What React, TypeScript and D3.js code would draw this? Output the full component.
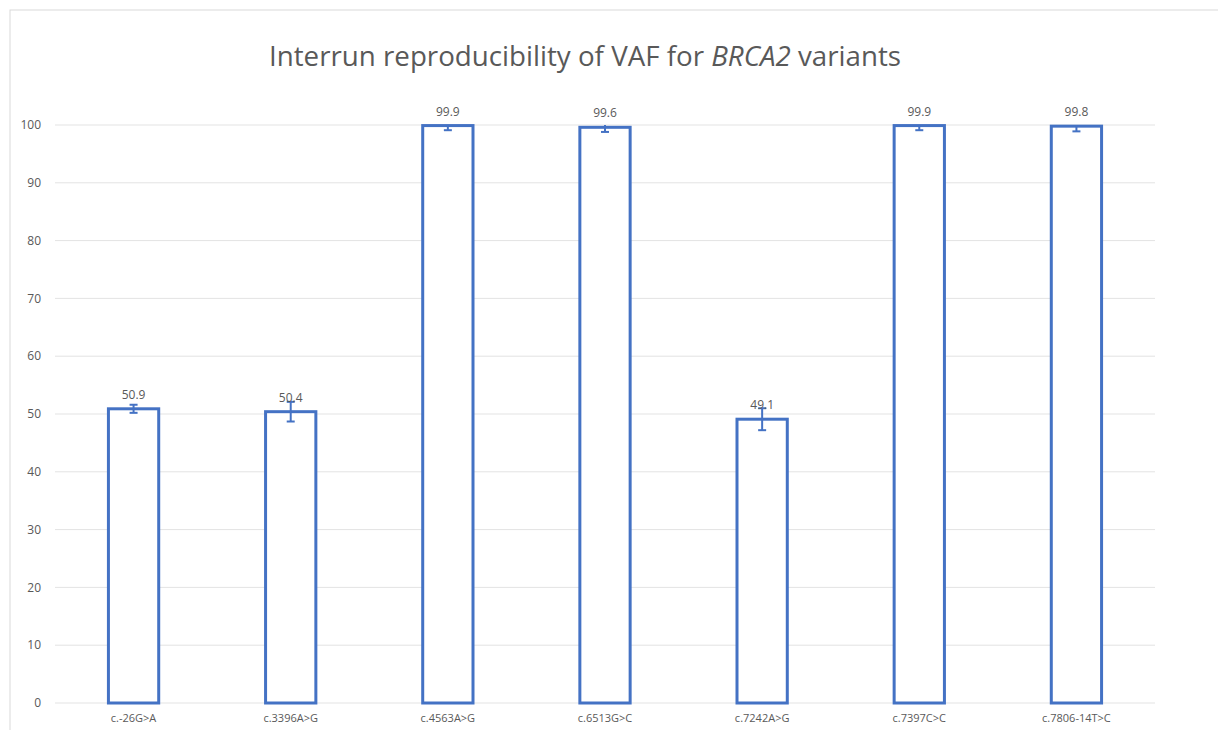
import React from "react";
import * as d3 from "d3";

const categories = ["c.-26G>A", "c.3396A>G", "c.4563A>G", "c.6513G>C", "c.7242A>G", "c.7397C>C", "c.7806-14T>C"];
const values = [50.9, 50.4, 99.9, 99.6, 49.1, 99.9, 99.8];
const errors = [0.7, 1.7, 0.8, 0.8, 1.9, 0.8, 0.9];
const yTicks = [0, 10, 20, 30, 40, 50, 60, 70, 80, 90, 100];

const W = 1218, H = 730;
const left = 55, right = 1155, top = 125, bottom = 703;

export default function App() {
  const x = d3.scaleBand<string>().domain(categories).range([left, right]).paddingInner(0.68).paddingOuter(0.34);
  const y = d3.scaleLinear().domain([0, 100]).range([bottom, top]);
  const blue = "#4472C4";
  const grey = "#595959";
  const font = "'Open Sans', 'Liberation Sans', sans-serif";
  return (
    <svg width={W} height={H} style={{ position: "absolute", left: 0, top: 0, background: "#fff" }} fontFamily={font}>
      <defs>
        <clipPath id="plot">
          <rect x={left} y={top} width={right - left} height={bottom - top + 5} />
        </clipPath>
      </defs>
      <rect x={10} y={10} width={W + 20} height={H + 20} fill="#fff" stroke="#d9d9d9" strokeWidth={1} />
      <text x={585} y={66} textAnchor="middle" fontSize={27} fill={grey} textLength={632} lengthAdjust="spacingAndGlyphs">
        Interrun reproducibility of VAF for <tspan fontStyle="italic">BRCA2</tspan> variants
      </text>
      {yTicks.map((t) => (
        <g key={t}>
          <line x1={left} x2={right} y1={y(t)} y2={y(t)} stroke="#e3e3e3" strokeWidth={1} />
          <text x={41} y={y(t)} dy="0.35em" textAnchor="end" fontSize={12} fill={grey}>{t}</text>
        </g>
      ))}
      {categories.map((c, i) => {
        const bx = x(c)!;
        const bw = x.bandwidth();
        const cx = bx + bw / 2;
        const v = values[i];
        const e = errors[i];
        return (
          <g key={c}>
            <rect x={bx} y={y(v)} width={bw} height={y(0) - y(v)} fill="#fff" stroke={blue} strokeWidth={3} />
            <g clipPath="url(#plot)" stroke={blue} strokeWidth={2}>
              <line x1={cx} x2={cx} y1={y(v + e)} y2={y(v - e)} />
              <line x1={cx - 4} x2={cx + 4} y1={y(v + e)} y2={y(v + e)} />
              <line x1={cx - 4} x2={cx + 4} y1={y(v - e)} y2={y(v - e)} />
            </g>
            <text x={cx} y={y(v) - 10} textAnchor="middle" fontSize={12} fill={grey}>{v.toFixed(1)}</text>
            <text x={cx} y={722} textAnchor="middle" fontSize={11} fill={grey}>{c}</text>
          </g>
        );
      })}
    </svg>
  );
}
